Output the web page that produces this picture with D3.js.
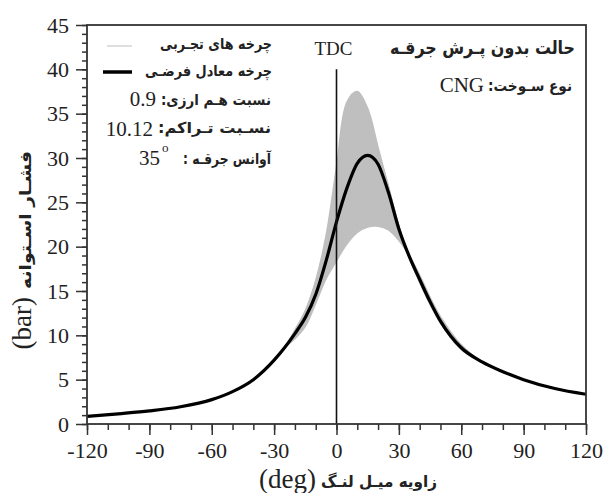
<!DOCTYPE html>
<html>
<head>
<meta charset="utf-8">
<script src="https://cdn.jsdelivr.net/npm/d3@7"></script>
<style>
  body { margin: 0; background: #fff; }
  svg { display: block; }
  .serif { font-family: "Liberation Serif", "DejaVu Serif", serif; fill: #222; }
  .fa { font-family: "DejaVu Sans", sans-serif; font-weight: bold; fill: #222; }
</style>
</head>
<body>
<svg id="chart" width="607" height="493"></svg>
<script>
// crank angle grid of the equivalent (black) cycle
const meanAngles = [-120,-105,-90,-75,-60,-50,-40,-30,-25,-20,-15,-10,-5,0,5,10,15,20,25,30,35,40,45,50,55,60,70,80,90,105,120];
const meanPressure = [0.85,1.15,1.48,1.95,2.75,3.65,5.0,7.2,8.6,10.2,12.0,14.6,18.4,22.8,26.6,29.4,30.3,29.3,26.1,22.0,18.9,16.3,13.8,11.6,9.9,8.6,7.0,5.9,5.0,4.0,3.35];

// experimental cycles, read near TDC where they spread out
const cycleAngles = [-20,-15,-10,-5,0,5,10,15,20,25,30,35,40,45,50,60];
const cycles = [
  [10.6,12.8,16.2,21.3,29.0,36.3,37.5,35.6,31.2,26.8,22.3,18.7,16.0,13.5,11.4,8.4],
  [10.5,12.7,16.0,20.9,28.2,35.3,36.6,35.0,30.9,26.7,22.3,18.7,16.0,13.5,11.4,8.4],
  [10.5,12.6,15.8,20.5,27.3,34.2,35.7,34.3,30.6,26.6,22.3,18.8,16.1,13.6,11.4,8.4],
  [10.4,12.5,15.6,20.1,26.6,33.1,34.8,33.6,30.3,26.5,22.3,18.8,16.1,13.6,11.5,8.5],
  [10.4,12.4,15.4,19.7,25.8,32.0,34.0,33.0,29.9,26.3,22.2,18.8,16.1,13.6,11.5,8.5],
  [10.3,12.3,15.2,19.3,25.0,30.8,33.0,32.3,29.6,26.2,22.2,18.9,16.2,13.7,11.5,8.5],
  [10.2,12.1,15.0,18.9,24.2,29.6,32.0,31.6,29.2,26.0,22.1,18.9,16.2,13.7,11.6,8.6],
  [10.2,12.0,14.8,18.6,23.5,28.5,30.9,30.8,28.7,25.8,22.1,18.9,16.2,13.7,11.6,8.6],
  [10.1,11.9,14.6,18.3,22.8,27.4,29.8,30.0,28.3,25.5,22.0,18.9,16.3,13.8,11.6,8.6],
  [10.1,11.8,14.5,18.0,22.2,26.4,28.7,29.0,27.8,25.2,21.9,19.0,16.3,13.8,11.7,8.7],
  [10.0,11.7,14.3,17.7,21.6,25.3,27.6,28.0,27.2,24.9,21.8,19.0,16.4,13.9,11.7,8.7],
  [10.0,11.6,14.2,17.4,21.0,24.4,26.5,27.0,26.5,24.5,21.7,19.0,16.4,13.9,11.8,8.7],
  [9.9,11.5,14.1,17.2,20.4,23.5,25.4,26.0,25.7,24.0,21.5,19.0,16.5,14.0,11.8,8.8],
  [9.9,11.4,14.0,17.0,19.9,22.6,24.4,25.0,24.8,23.5,21.3,19.0,16.5,14.0,11.9,8.8],
  [9.8,11.3,13.9,16.8,19.4,21.8,23.4,24.0,23.9,22.9,21.1,19.0,16.6,14.1,11.9,8.8],
  [9.7,11.2,13.8,16.6,18.9,21.0,22.4,23.0,23.0,22.4,20.9,19.0,16.7,14.2,12.0,8.9],
  [9.6,11.0,13.6,16.4,18.4,20.3,21.6,22.2,22.3,21.9,20.7,19.0,16.8,14.3,12.1,8.9]
];

const xTicks = [-120,-90,-60,-30,0,30,60,90,120];
const yTicks = [0,5,10,15,20,25,30,35,40,45];
const tdcTop = 40;

const svg = d3.select('#chart');
const margin = { top: 25, right: 21, bottom: 69, left: 87 };
const width = 607 - margin.left - margin.right;
const height = 493 - margin.top - margin.bottom;

const x = d3.scaleLinear().domain([-120, 120]).range([margin.left, margin.left + width]);
const y = d3.scaleLinear().domain([0, 45]).range([margin.top + height, margin.top]);

svg.append('clipPath').attr('id', 'plot')
  .append('rect')
  .attr('x', x(-120)).attr('y', y(45))
  .attr('width', width).attr('height', height);

// join a cycle with the common compression / expansion parts
const meanPts = meanAngles.map((a, i) => [a, meanPressure[i]]);
const before = meanPts.filter(d => d[0] < -20);
const after = meanPts.filter(d => d[0] > 60);
const fullCycle = c => before.concat(cycleAngles.map((a, i) => [a, c[i]]), after);

const cycleCurve = d3.curveCatmullRom.alpha(0.5);
const cycleLine = d3.line().x(d => x(d[0])).y(d => y(d[1])).curve(cycleCurve);
const meanLine = d3.line().x(d => x(d[0])).y(d => y(d[1])).curve(d3.curveMonotoneX);

// band between lowest and highest cycle
const bandLo = cycleAngles.map((a, i) => d3.min(cycles, c => c[i]));
const bandHi = cycleAngles.map((a, i) => d3.max(cycles, c => c[i]));
const band = cycleAngles.map((a, i) => [a, bandLo[i], bandHi[i]]);

const plot = svg.append('g').attr('clip-path', 'url(#plot)');

plot.append('path')
  .datum(band)
  .attr('d', d3.area().x(d => x(d[0])).y0(d => y(d[1])).y1(d => y(d[2])).curve(cycleCurve))
  .attr('fill', '#bfbfbf');

plot.append('g')
  .selectAll('path')
  .data(cycles)
  .enter()
  .append('path')
  .attr('d', c => cycleLine(fullCycle(c)))
  .attr('fill', 'none')
  .attr('stroke', '#bfbfbf')
  .attr('stroke-width', 1.4);

// TDC line
svg.append('line')
  .attr('x1', x(0)).attr('x2', x(0))
  .attr('y1', y(0)).attr('y2', y(tdcTop))
  .attr('stroke', '#111').attr('stroke-width', 1.6);

// equivalent cycle
plot.append('path')
  .datum(meanPts)
  .attr('d', meanLine)
  .attr('fill', 'none')
  .attr('stroke', '#000')
  .attr('stroke-width', 3.2);

// Axes
const xMinor = svg.append('g')
  .attr('transform', `translate(0,${y(0)})`)
  .call(d3.axisBottom(x).tickValues(d3.range(-120, 121, 10)).tickSize(6).tickFormat(''));
const xMajor = svg.append('g')
  .attr('transform', `translate(0,${y(0)})`)
  .call(d3.axisBottom(x).tickValues(xTicks).tickSize(11).tickPadding(7).tickFormat(d3.format('d')));
const yMinor = svg.append('g')
  .attr('transform', `translate(${x(-120)},0)`)
  .call(d3.axisLeft(y).tickValues(d3.range(0, 46, 1)).tickSize(5).tickFormat(''));
const yMajor = svg.append('g')
  .attr('transform', `translate(${x(-120)},0)`)
  .call(d3.axisLeft(y).tickValues(yTicks).tickSize(11).tickPadding(7));

[xMinor, xMajor, yMinor, yMajor].forEach(g => {
  g.select('.domain').remove();
  g.selectAll('line').attr('stroke', '#333').attr('stroke-width', 1.5);
  g.selectAll('text')
    .attr('class', 'serif')
    .style('font-size', '22px')
    .attr('fill', '#222');
});
xMajor.selectAll('text').text(d => d < 0 ? '-' + Math.abs(d) : d);

// frame
svg.append('rect')
  .attr('x', x(-120)).attr('y', y(45))
  .attr('width', width).attr('height', height)
  .attr('fill', 'none').attr('stroke', '#333').attr('stroke-width', 1.8);

// Persian text helper: right edge at x0, fitted to the measured width
const faText = (parent, x0, y0, size, w, txt) => parent.append('text').attr('class', 'fa')
  .attr('x', x0).attr('y', y0).attr('text-anchor', 'end')
  .attr('textLength', w).attr('lengthAdjust', 'spacingAndGlyphs')
  .style('font-size', size + 'px').text(txt);
const numText = (x0, y0, size, txt) => svg.append('text').attr('class', 'serif')
  .attr('x', x0).attr('y', y0).attr('text-anchor', 'end')
  .style('font-size', size + 'px').text(txt);

// axis titles
svg.append('text').attr('class', 'serif')
  .attr('x', 316).attr('y', 488).attr('text-anchor', 'end')
  .style('font-size', '27px').text('(deg)');
faText(svg, 437, 487, 16, 116, 'زاویه میـل لنـگ');

const yTitle = svg.append('g').attr('transform', 'translate(31,295) rotate(-90)');
yTitle.append('text').attr('class', 'serif')
  .attr('x', -2).attr('y', 0).attr('text-anchor', 'end')
  .style('font-size', '27px').text('(bar)');
faText(yTitle, 144, 0, 16, 138, 'فشـار اسـتوانه');

// TDC label
svg.append('text').attr('class', 'serif')
  .attr('x', x(0) - 3).attr('y', 55).attr('text-anchor', 'middle')
  .style('font-size', '19px').text('TDC');

// legend
svg.append('line').attr('x1', 107).attr('x2', 132).attr('y1', 46).attr('y2', 46)
  .attr('stroke', '#c8c8c8').attr('stroke-width', 1.2);
svg.append('line').attr('x1', 103).attr('x2', 132).attr('y1', 72).attr('y2', 72)
  .attr('stroke', '#000').attr('stroke-width', 3.5);

faText(svg, 272, 49, 15, 112, 'چرخه های تجـربی');
faText(svg, 272, 76, 15, 127, 'چرخه معادل فرضـی');
faText(svg, 271, 105, 15, 110, 'نسبت هـم ارزی:\u200F');
numText(156, 106, 21, '0.9');
faText(svg, 271, 133, 15, 113, 'نسـبت تـراکم:\u200F');
numText(153, 136, 21, '10.12');
faText(svg, 271, 164, 15, 88, 'آوانس جرقـه  :\u200F');
numText(160, 165, 21, '35');
svg.append('text').attr('class', 'serif')
  .attr('x', 162).attr('y', 152).style('font-size', '13px').text('o');

faText(svg, 575, 54, 18, 185, 'حالت بدون پـرش جرقـه');
faText(svg, 572, 91, 15, 84, 'نوع سـوخت:\u200F');
numText(484, 92, 21, 'CNG');
</script>
</body>
</html>
